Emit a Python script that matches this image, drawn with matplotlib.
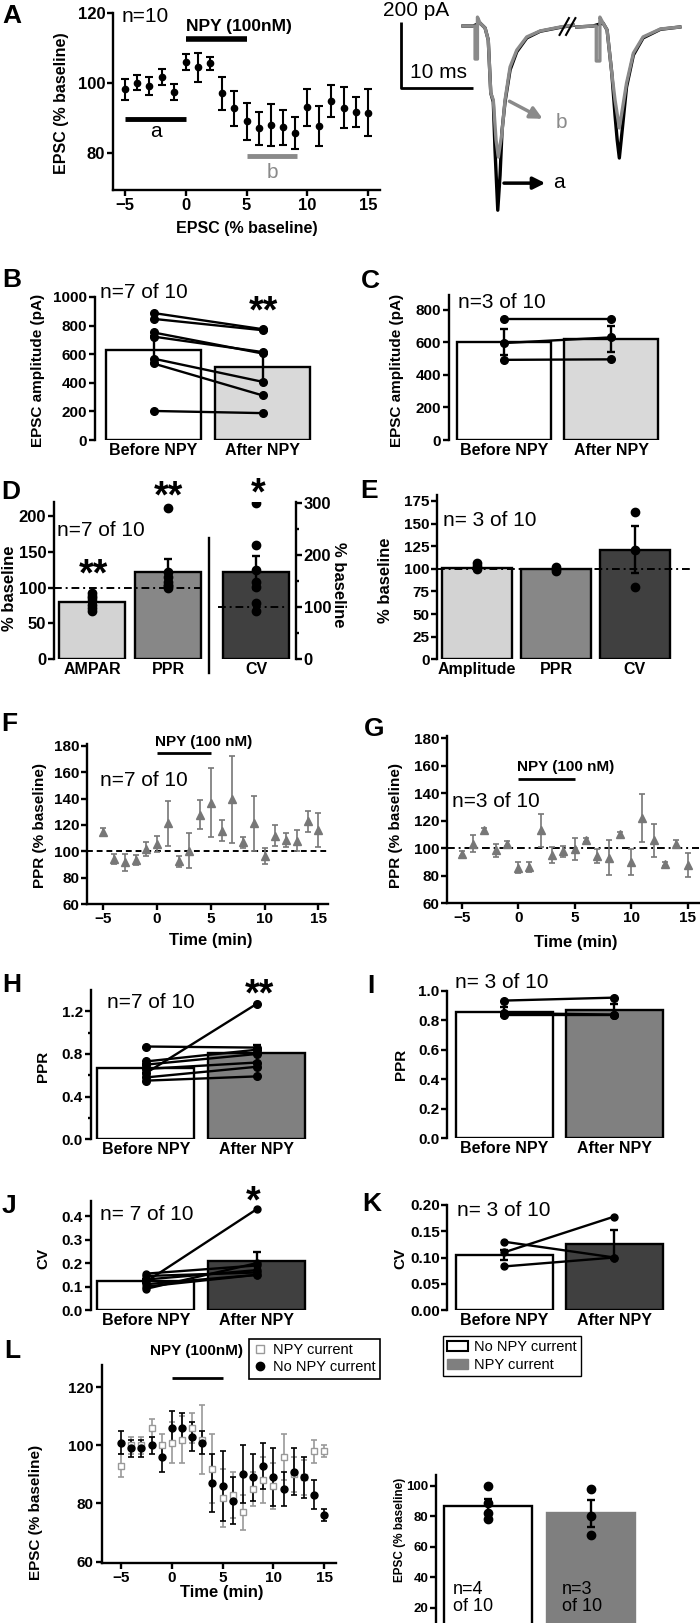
import matplotlib
matplotlib.use('Agg')
import matplotlib.pyplot as plt
from matplotlib.patches import Patch
from matplotlib.lines import Line2D

plt.rcParams['font.family'] = ['Liberation Sans', 'DejaVu Sans']
plt.rcParams['font.weight'] = 'bold'

# ---------------- data ----------------
# A: EPSC time course
A_time = list(range(-5, 16))
A_mean = [98.2, 100.1, 99.1, 101.8, 97.4, 105.9, 104.5, 105.6, 97.1, 92.7, 89.1,
          87.0, 88.0, 87.3, 85.8, 93.1, 87.7, 94.8, 92.9, 91.7, 91.5]
A_sem = [3.0, 2.2, 2.5, 2.3, 2.3, 2.3, 4.2, 1.8, 4.7, 4.9, 5.3,
         4.7, 6.0, 5.0, 4.6, 5.3, 5.6, 4.5, 5.9, 4.3, 6.7]

# A: example traces (ms, pA)
gray1_t = [0, 1.4, 1.67, 1.67, 2.0, 2.0, 2.36, 3.06, 3.5, 3.85, 4.2, 4.58, 4.9, 5.4,
           5.83, 6.53, 7.46, 8.85, 10.7, 13.5, 15.3]
gray1_i = [0, 0, 0, -100, -100, 27, 9, -6, -42, -203, -224, -345, -397, -324,
           -224, -124, -73, -33, -15, -3, 3]
black1_t = [0, 1.4, 2.36, 3.06, 3.5, 3.85, 4.2, 4.44, 4.82, 5.14, 5.42, 5.83, 6.53,
            7.46, 8.85, 10.7, 13.5, 15.3]
black1_i = [0, 0, 9, -6, -42, -203, -230, -376, -558, -452, -315, -230, -133,
            -78, -36, -16, -4, 2]
gray2_t = [15.8, 18.06, 18.5, 18.5, 19.0, 19.0, 19.44, 20.0, 20.65, 21.1, 21.7, 22.1,
           22.7, 23.65, 25.0, 27.4, 30.1]
gray2_i = [-3, 0, 0, -106, -106, 27, 9, -12, -142, -224, -309, -255,
           -173, -82, -33, -9, -3]
black2_t = [15.8, 18.06, 19.44, 20.0, 20.65, 21.1, 21.4, 21.7, 22.1, 22.7, 23.65,
            25.0, 27.4, 30.1]
black2_i = [-3, 0, 9, -12, -142, -270, -345, -400, -315, -185, -88, -36, -10, -3]

# B / C: EPSC amplitude
pair_labels = ['Before NPY', 'After NPY']
B_before = [888, 847, 752, 723, 569, 535, 203]
B_after = [775, 768, 605, 615, 407, 312, 188]
B_mean = [632, 510]
B_sem = [95, 95]
C_before = [743, 595, 492]
C_after = [743, 630, 495]
C_mean = [600, 620]
C_sem = [80, 78]

# D: % baseline (AMPAR, PPR left axis; CV right axis)
D_labels = ['AMPAR', 'PPR', 'CV']
D_ampar = [93, 89, 85, 81, 76, 72, 67]
D_ppr = [211, 122, 115, 108, 104, 102, 100]
D_cv = [300, 219, 172, 148, 140, 108, 92]
D_mean = [80.4, 122, 167]
D_sem = [3.5, 18, 31]

# E
E_labels = ['Amplitude', 'PPR', 'CV']
E_amp = [106, 103, 100]
E_ppr = [102, 100, 98]
E_cv = [163, 121, 80]
E_mean = [101.4, 99.6, 121]
E_sem = [2, 1, 26]

# F / G: PPR time course
F_time = list(range(-5, 16))
F_mean = [115, 94.2, 91.7, 93.5, 101.8, 105.6, 121.2, 92.4, 100.5, 127.8, 137,
          115.7, 139.7, 106.8, 121.2, 96.2, 111.9, 108.6, 108, 122.7, 116.2]
F_sem = [3, 4, 6.5, 4, 5, 6, 17, 4, 13.5, 11, 26, 8, 33, 4, 21, 6, 8, 5, 8, 8, 13]
G_mean = [96.1, 103.4, 113, 98.5, 103.4, 85.9, 86.4, 113.1, 95.1, 98, 99.3,
          105.8, 94.4, 93.2, 110.2, 90.3, 122.3, 105.8, 88.3, 103.4, 87.9]
G_sem = [2, 6, 2, 5, 2, 4, 3.5, 12, 6, 4, 8, 1.5, 5, 12.5, 2, 9.5, 17.5, 12, 1.5, 2.5, 9]

# H / I: PPR
H_before = [0.87, 0.62, 0.73, 0.70, 0.66, 0.58, 0.55]
H_after = [0.86, 1.27, 0.84, 0.80, 0.72, 0.68, 0.59]
H_mean = [0.666, 0.806]
H_sem = [0.04, 0.08]
I_before = [0.935, 0.85, 0.84]
I_after = [0.955, 0.84, 0.84]
I_mean = [0.86, 0.87]
I_sem = [0.03, 0.04]

# J / K: CV
J_before = [0.155, 0.145, 0.12, 0.13, 0.10, 0.09, 0.11]
J_after = [0.19, 0.16, 0.43, 0.17, 0.15, 0.20, 0.15]
J_mean = [0.124, 0.207]
J_sem = [0.01, 0.04]
K_before = [0.11, 0.13, 0.083]
K_after = [0.178, 0.10, 0.10]
K_mean = [0.105, 0.125]
K_sem = [0.01, 0.028]

# L: EPSC time course split by NPY current
L_time = list(range(-5, 16))
L_no = [101, 99, 99, 100, 96, 106, 106, 103, 101, 87, 86, 81, 90, 89, 93, 89, 85, 91, 89, 83, 76]
L_no_sem = [4, 3, 3, 3, 5, 6, 5, 5, 4, 10, 12, 8, 10, 8, 8, 10, 6, 8, 7, 5, 2]
L_npy = [93, 100, 100, 106, 100, 101, 102, 106, 102, 92, 82, 83, 77, 85, 88, 86, 96, 90, 89, 98, 98]
L_npy_sem = [4, 3, 3, 3, 4, 7, 8, 5, 12, 12, 10, 8, 6, 6, 8, 8, 8, 6, 6, 4, 2]

# M
M_labels = ['No NPY current', 'NPY current']
M_no = [100, 89, 82, 78]
M_npy = [98, 80, 68]
M_mean = [86.5, 82]
M_sem = [5, 9]

# ---------------- layout helpers ----------------
W, H = 700, 1623
fig = plt.figure(figsize=(W / 100, H / 100), dpi=100)
LW = 1.7
GRAY = '#8a8a8a'


def px_axes(l, t, r, b):
    return fig.add_axes([l / W, 1 - b / H, (r - l) / W, (b - t) / H])


def ftext(x, y, s, **kw):
    kw.setdefault('ha', 'center')
    kw.setdefault('va', 'center')
    fig.text(x / W, 1 - y / H, s, **kw)


def style(ax, fs=11):
    ax.spines['top'].set_visible(False)
    ax.spines['right'].set_visible(False)
    ax.spines['left'].set_linewidth(LW)
    ax.spines['bottom'].set_linewidth(LW)
    ax.tick_params(width=LW, length=4, labelsize=fs, pad=1.5)
    ax.set_facecolor('none')


def bar_axes(l, t, r, b, centers, width_px, ylim, fs=11):
    ax = px_axes(l, t, r, b)
    style(ax, fs)
    c0 = centers[0]
    d = centers[1] - centers[0]
    pos = [(c - c0) / d for c in centers]
    ax.set_xlim((l - c0) / d, (r - c0) / d)
    ax.set_ylim(*ylim)
    ax.spines['bottom'].set_visible(False)
    ax.tick_params(axis='x', length=0, pad=2)
    return ax, pos, width_px / d


def paired(ax, pos, w, before, after, mean, sem, colors, labels, ms=5.5):
    ax.bar(pos, mean, width=w, color=colors, edgecolor='k', linewidth=LW, zorder=1)
    ax.errorbar(pos, mean, yerr=sem, fmt='none', ecolor='k', elinewidth=LW,
                capsize=3, capthick=LW, zorder=3)
    for bv, av in zip(before, after):
        ax.plot([pos[0], pos[1]], [bv, av], '-o', color='k', ms=ms, lw=LW, zorder=4)
    ax.set_xticks(pos, labels, fontsize=11.5)


def letter(x, y, s):
    ftext(x, y, s, fontsize=19, fontweight='bold')


def ntext(x, y, s, fs=15):
    ftext(x, y, s, ha='left', fontsize=fs, fontweight='normal')


def ylab(x, y, s, fs=11, rot=90):
    ftext(x, y, s, rotation=rot, fontsize=fs, fontweight='bold')


# ---------------- A ----------------
axA = px_axes(113, 13, 380, 190)
style(axA, 12)
axA.errorbar(A_time, A_mean, yerr=A_sem, fmt='o', color='k', ms=4.5,
             elinewidth=1.5, capsize=3, capthick=1.5)
axA.set_xlim(-6, 16)
axA.set_ylim(69.4, 120)
axA.set_xticks([-5, 0, 5, 10, 15])
axA.set_yticks([80, 100, 120])
axA.plot([0, 5], [112.6, 112.6], color='k', lw=4, solid_capstyle='butt', clip_on=False)
axA.plot([-5, 0], [89.8, 89.8], color='k', lw=3.5, solid_capstyle='butt')
axA.plot([5, 9.2], [79, 79], color=GRAY, lw=3.5, solid_capstyle='butt')
axA.text(-2.5, 86, 'a', fontsize=15, fontweight='normal', ha='center', va='center')
axA.text(7.1, 74.3, 'b', fontsize=15, fontweight='normal', color=GRAY, ha='center', va='center')
ftext(186, 27, 'NPY (100nM)', ha='left', fontsize=12.5)
ntext(122, 16, 'n=10')
ftext(247, 228, 'EPSC (% baseline)', fontsize=11.5)
ylab(62, 103, 'EPSC (% baseline)', fs=11.5)
letter(12, 16, 'A')

# traces
axT = px_axes(380, 0, 700, 230)
axT.axis('off')
axT.set_xlim(-11.53, 32.9)
axT.set_ylim(-618, 78.8)
axT.plot(black1_t, black1_i, color='k', lw=2.4)
axT.plot(black2_t, black2_i, color='k', lw=2.4)
axT.plot(gray1_t, gray1_i, color=GRAY, lw=2.4)
axT.plot(gray2_t, gray2_i, color=GRAY, lw=2.4)
axT.plot([13.4, 14.7], [-27, 24], color='k', lw=1.5)
axT.plot([14.3, 15.6], [-27, 24], color='k', lw=1.5)
axT.plot([-8.6, -8.6, 1.4], [12, -188, -188], color='k', lw=2, solid_capstyle='butt')
axT.annotate('', xy=(11.4, -285), xytext=(6.1, -224),
             arrowprops=dict(arrowstyle='-|>', color=GRAY, lw=2.5, mutation_scale=18))
axT.annotate('', xy=(11.8, -476), xytext=(5.3, -476),
             arrowprops=dict(arrowstyle='-|>', color='k', lw=2.5, mutation_scale=18))
ftext(556, 122, 'b', fontsize=15, fontweight='normal', color=GRAY, ha='left')
ftext(553, 183, 'a', fontsize=15, fontweight='normal', ha='left')
ftext(416, 10, '200 pA', fontsize=15, fontweight='normal')
ftext(439, 73, '10 ms', fontsize=15, fontweight='normal')

# ---------------- B ----------------
axB, pB, wB = bar_axes(95, 297, 320, 440, [153.5, 262.5], 95, (0, 1000))
paired(axB, pB, wB, B_before, B_after, B_mean, B_sem, ['white', '#d9d9d9'], pair_labels)
axB.set_yticks([0, 200, 400, 600, 800, 1000])
ntext(100, 293, 'n=7 of 10')
ftext(263, 312, '**', fontsize=27)
ylab(38, 370, 'EPSC amplitude (pA)')
letter(12, 280, 'B')

# ---------------- C ----------------
axC, pC, wC = bar_axes(449, 295, 665, 440, [503.7, 611], 94, (0, 890))
paired(axC, pC, wC, C_before, C_after, C_mean, C_sem, ['white', '#d9d9d9'], pair_labels)
axC.set_yticks([0, 200, 400, 600, 800])
ntext(458, 302, 'n=3 of 10')
ylab(397, 370, 'EPSC amplitude (pA)')
letter(370, 281, 'C')

# ---------------- D ----------------
axD = px_axes(54, 502, 296, 659.3)
style(axD, 12)
d = 76.1
Dpos = [0, 1, (256.2 - 92.2) / d]
wD = 66 / d
axD.set_xlim((54 - 92.2) / d, (296 - 92.2) / d)
axD.set_ylim(0, 219.5)
axD.spines['bottom'].set_visible(False)
axD.tick_params(axis='x', length=0, pad=2)
axD.set_yticks([0, 50, 100, 150, 200])
axD.bar(Dpos[:2], D_mean[:2], width=wD, color=['#d3d3d3', '#878787'],
        edgecolor='k', linewidth=LW, zorder=1)
axD.errorbar(Dpos[:2], D_mean[:2], yerr=D_sem[:2], fmt='none', ecolor='k',
             elinewidth=LW, capsize=3, capthick=LW, zorder=3)
axD.plot([Dpos[0]] * len(D_ampar), D_ampar, 'o', color='k', ms=6, zorder=4)
axD.plot([Dpos[1]] * len(D_ppr), D_ppr, 'o', color='k', ms=6, zorder=4)
axD.plot([(54 - 92.2) / d, (203 - 92.2) / d], [100, 100], color='k', lw=1.4,
         ls=(0, (4, 2, 1, 2)), zorder=5)
div = (209.3 - 92.2) / d
axD.plot([div, div], [169, -19], color='k', lw=LW, clip_on=False)
axD.set_xticks(Dpos, D_labels, fontsize=11.5)
axD2 = axD.twinx()
axD2.set_ylim(0, 302.6)
for s in ['top', 'left', 'bottom']:
    axD2.spines[s].set_visible(False)
axD2.spines['right'].set_linewidth(LW)
axD2.tick_params(width=LW, length=4, labelsize=12, pad=1.5)
axD2.set_yticks([0, 100, 200, 300])
axD2.set_yticks([50, 150, 250], minor=True)
axD2.tick_params(which='minor', width=LW, length=2.5)
axD2.bar([Dpos[2]], [D_mean[2]], width=wD, color='#404040', edgecolor='k', linewidth=LW, zorder=1)
axD2.errorbar([Dpos[2]], [D_mean[2]], yerr=[D_sem[2]], fmt='none', ecolor='k',
              elinewidth=LW, capsize=3, capthick=LW, zorder=3)
axD2.plot([Dpos[2]] * len(D_cv), D_cv, 'o', color='k', ms=6, zorder=4)
axD2.plot([(218 - 92.2) / d, (290 - 92.2) / d], [100, 100], color='k', lw=1.4,
          ls=(0, (4, 2, 1, 2)), zorder=5)
ntext(57, 530, 'n=7 of 10')
ftext(93, 575, '**', fontsize=27)
ftext(168, 497, '**', fontsize=27)
ftext(258, 494, '*', fontsize=27)
ylab(10, 588, '% baseline', fs=12)
ylab(338, 585, '% baseline', fs=12, rot=270)
letter(11, 492, 'D')

# ---------------- E ----------------
axE = px_axes(437.3, 495, 690, 659.3)
style(axE, 11)
dE = 78.75
Epos = [0, 1, 2]
wE = 70 / dE
axE.set_xlim((437.3 - 477.2) / dE, (690 - 477.2) / dE)
axE.set_ylim(0, 181.6)
axE.spines['bottom'].set_visible(False)
axE.tick_params(axis='x', length=0, pad=2)
axE.set_yticks([0, 25, 50, 75, 100, 125, 150, 175])
axE.bar(Epos, E_mean, width=wE, color=['#d3d3d3', '#878787', '#404040'],
        edgecolor='k', linewidth=LW, zorder=1)
axE.errorbar(Epos, E_mean, yerr=E_sem, fmt='none', ecolor='k', elinewidth=LW,
             capsize=3, capthick=LW, zorder=3)
for p, vals in zip(Epos, [E_amp, E_ppr, E_cv]):
    axE.plot([p] * len(vals), vals, 'o', color='k', ms=6, zorder=4)
axE.axhline(100, color='k', lw=1.4, ls=(0, (4, 2, 1, 2)), zorder=5)
axE.set_xticks(Epos, E_labels, fontsize=11.5)
ntext(443, 520, 'n= 3 of 10')
ylab(385, 580, '% baseline', fs=12)
letter(369, 491, 'E')


# ---------------- F / G ----------------
def ppr_time(ax, mean, sem, xlim, ylim, ls):
    style(ax, 11)
    ax.errorbar(F_time, mean, yerr=sem, fmt='^', color='#777777', ms=6,
                elinewidth=1.2, capsize=2.5, capthick=1.2)
    ax.axhline(100, color='k', lw=1.4, ls=ls, zorder=0)
    ax.set_xlim(*xlim)
    ax.set_ylim(*ylim)
    ax.set_xticks([-5, 0, 5, 10, 15])
    ax.set_yticks([60, 80, 100, 120, 140, 160, 180])


axF = px_axes(87.3, 744, 328.3, 904)
ppr_time(axF, F_mean, F_sem, (-6.49, 15.93), (60, 181.5), (0, (3, 2)))
axF.plot([0, 5], [174.7, 174.7], color='k', lw=2, solid_capstyle='butt', clip_on=False)
ftext(155, 742, 'NPY (100 nM)', ha='left', fontsize=11)
ntext(100, 780, 'n=7 of 10')
ftext(211, 940, 'Time (min)', fontsize=12)
ylab(40, 825, 'PPR (% baseline)')
letter(9, 724, 'F')

axG = px_axes(447.3, 736, 699, 903.3)
ppr_time(axG, G_mean, G_sem, (-6.27, 16.0), (60, 181.7), (0, (4, 2, 1, 2)))
axG.plot([0, 5], [150.4, 150.4], color='k', lw=2, solid_capstyle='butt', clip_on=False)
ftext(517, 767, 'NPY (100 nM)', ha='left', fontsize=11)
ntext(452, 802, 'n=3 of 10')
ftext(576, 943, 'Time (min)', fontsize=12)
ylab(396, 825, 'PPR (% baseline)')
letter(374, 729, 'G')

# ---------------- H ----------------
axH, pH, wH = bar_axes(90.7, 990, 320, 1139.3, [145.8, 256.7], 97, (0, 1.4))
paired(axH, pH, wH, H_before, H_after, H_mean, H_sem, ['white', '#808080'], pair_labels)
axH.set_yticks([0, 0.4, 0.8, 1.2])
axH.set_yticks([0.2, 0.6, 1.0], minor=True)
axH.tick_params(which='minor', width=LW, length=2.5)
ntext(107, 1002, 'n=7 of 10')
ftext(259, 995, '**', fontsize=27)
ylab(43, 1066, 'PPR')
letter(12, 985, 'H')

# ---------------- I ----------------
axI, pI, wI = bar_axes(447.3, 991, 670, 1138.3, [504.3, 614.3], 97, (0, 1.0))
paired(axI, pI, wI, I_before, I_after, I_mean, I_sem, ['white', '#808080'], pair_labels)
axI.set_yticks([0, 0.2, 0.4, 0.6, 0.8, 1.0])
ntext(455, 983, 'n= 3 of 10')
ylab(401, 1064, 'PPR')
letter(371, 986, 'I')

# ---------------- J ----------------
axJ, pJ, wJ = bar_axes(90.7, 1201, 320, 1310, [145.8, 256.7], 97, (0, 0.465))
paired(axJ, pJ, wJ, J_before, J_after, J_mean, J_sem, ['white', '#404040'], pair_labels, ms=5)
axJ.set_yticks([0, 0.1, 0.2, 0.3, 0.4])
ntext(100, 1215, 'n= 7 of 10')
ftext(253, 1202, '*', fontsize=27)
ylab(43, 1258, 'CV')
letter(9, 1206, 'J')

# ---------------- K ----------------
axK, pK, wK = bar_axes(447.3, 1205, 670, 1310, [504.3, 614.3], 97, (0, 0.2))
paired(axK, pK, wK, K_before, K_after, K_mean, K_sem, ['white', '#404040'], pair_labels, ms=5)
axK.set_yticks([0, 0.05, 0.10, 0.15, 0.20], ['0.00', '0.05', '0.10', '0.15', '0.20'])
ntext(457, 1210, 'n= 3 of 10')
ylab(400, 1258, 'CV')
letter(372, 1204, 'K')

# ---------------- L ----------------
axL = px_axes(101.5, 1365, 336.5, 1563)
style(axL, 11)
axL.errorbar(L_time, L_npy, yerr=L_npy_sem, fmt='s', color='#999999', mfc='white',
             ms=5, elinewidth=1.2, capsize=2.5, capthick=1.2, label='NPY current')
axL.errorbar(L_time, L_no, yerr=L_no_sem, fmt='o', color='k', ms=5,
             elinewidth=1.2, capsize=2.5, capthick=1.2, label='No NPY current')
axL.set_xlim(-6.92, 16.2)
axL.set_ylim(59.5, 127.7)
axL.set_xticks([-5, 0, 5, 10, 15])
axL.set_yticks([60, 80, 100, 120])
axL.plot([0, 5], [123.2, 123.2], color='k', lw=2, solid_capstyle='butt', clip_on=False)
ftext(150, 1351, 'NPY (100nM)', ha='left', fontsize=11)
h_npy = Line2D([], [], marker='s', ls='none', color='#999999', mfc='white', ms=6)
h_no = Line2D([], [], marker='o', ls='none', color='k', ms=6)
leg = axL.legend([h_npy, h_no], ['NPY current', 'No NPY current'], loc='upper left',
                 bbox_to_anchor=(0.626, 1.131), borderaxespad=0, fancybox=False,
                 edgecolor='k', framealpha=1, handlelength=1, handletextpad=0.4,
                 labelspacing=0.2, borderpad=0.3, prop={'size': 10.5, 'weight': 'normal'})
leg.get_frame().set_linewidth(1.2)
ftext(222, 1592, 'Time (min)', fontsize=12)
ylab(36, 1512, 'EPSC (% baseline)')
letter(12, 1351, 'L')

# ---------------- M ----------------
axM = px_axes(436, 1475, 640, 1638)
style(axM, 9.5)
dM = 102.5
Mpos = [0, 1]
wM = 88 / dM
axM.set_xlim((436 - 488) / dM, (640 - 488) / dM)
axM.set_ylim(0, 107.2)
axM.spines['bottom'].set_visible(False)
axM.set_xticks([])
axM.set_yticks([20, 40, 60, 80, 100])
axM.bar(Mpos, M_mean, width=wM, color=['white', '#7f7f7f'], edgecolor=['k', '#7f7f7f'],
        linewidth=LW, zorder=1)
axM.errorbar(Mpos, M_mean, yerr=M_sem, fmt='none', ecolor='k', elinewidth=LW,
             capsize=3, capthick=LW, zorder=3)
axM.plot([Mpos[0]] * len(M_no), M_no, 'o', color='k', ms=6, zorder=4)
axM.plot([Mpos[1]] * len(M_npy), M_npy, 'o', color='k', ms=6, zorder=4)
ftext(453, 1598, 'n=4\nof 10', ha='left', fontsize=13, fontweight='normal', linespacing=1.0)
ftext(562, 1598, 'n=3\nof 10', ha='left', fontsize=13, fontweight='normal', linespacing=1.0)
fig.legend([Patch(facecolor='white', edgecolor='k', lw=1.5),
            Patch(facecolor='#7f7f7f', edgecolor='#7f7f7f')],
           M_labels, loc='upper left', bbox_to_anchor=(443 / W, 1 - 1336 / H),
           fancybox=False, edgecolor='k', framealpha=1, handlelength=1.4,
           handletextpad=0.4, labelspacing=0.25, borderpad=0.3, borderaxespad=0,
           prop={'size': 10.5, 'weight': 'normal'})
ylab(400, 1530, 'EPSC (% baseline)', fs=8.5)
letter(465, 1351, 'M')

fig.savefig('out.png', dpi=100)
